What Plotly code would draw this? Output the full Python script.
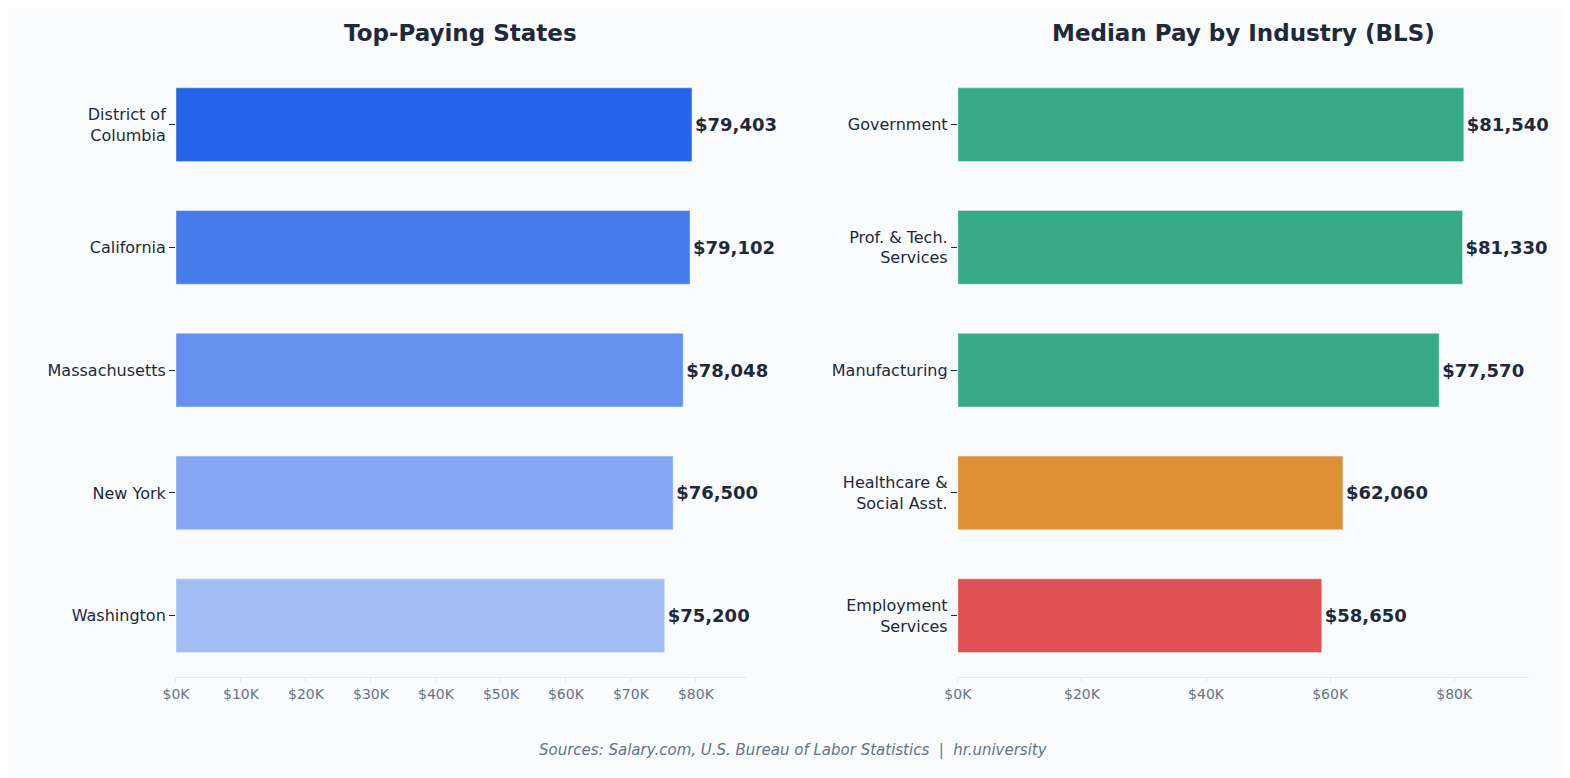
import plotly.graph_objects as go
from plotly.subplots import make_subplots

states = ["District of<br>Columbia", "California", "Massachusetts", "New York", "Washington"]
state_pay = [79403, 79102, 78048, 76500, 75200]
state_colors = ["#2563eb", "#467bec", "#6690ef", "#87a6f2", "#a5bdf5"]

industries = ["Government", "Prof. & Tech.<br>Services", "Manufacturing",
              "Healthcare &<br>Social Asst.", "Employment<br>Services"]
industry_pay = [81540, 81330, 77570, 62060, 58650]
industry_colors = ["#37aa87", "#37aa87", "#37aa87", "#de9035", "#e05252"]

fig = make_subplots(rows=1, cols=2, horizontal_spacing=0.1,
                    subplot_titles=("Top-Paying States", "Median Pay by Industry (BLS)"))

fig.add_trace(go.Bar(
    y=states, x=state_pay, orientation="h", width=0.6,
    marker=dict(color=state_colors),
    text=[f"${v:,}" for v in state_pay], textposition="outside",
    textfont=dict(size=18, color="#1e293b", family="DejaVu Sans", weight="bold"),
    cliponaxis=False, showlegend=False), row=1, col=1)

fig.add_trace(go.Bar(
    y=industries, x=industry_pay, orientation="h", width=0.6,
    marker=dict(color=industry_colors),
    text=[f"${v:,}" for v in industry_pay], textposition="outside",
    textfont=dict(size=18, color="#1e293b", family="DejaVu Sans", weight="bold"),
    cliponaxis=False, showlegend=False), row=1, col=2)

fig.update_yaxes(autorange="reversed", ticks="outside", ticklen=6, tickcolor="#1e293b",
                 tickfont=dict(size=16, color="#1e293b"), showgrid=False,
                 domain=[0.14, 0.929], automargin=False)
fig.update_xaxes(showgrid=False, showline=True, linecolor="#e2e8f0", zeroline=False,
                 tickfont=dict(size=14, color="#64748b"), ticks="outside",
                 tickcolor="#e2e8f0", ticklen=4, automargin=False)
fig.update_xaxes(range=[0, 87700], tickvals=list(range(0, 80001, 10000)),
                 ticktext=[f"${v // 1000}K" for v in range(0, 80001, 10000)],
                 domain=[0.107, 0.470], row=1, col=1)
fig.update_xaxes(range=[0, 92100], tickvals=list(range(0, 80001, 20000)),
                 ticktext=[f"${v // 1000}K" for v in range(0, 80001, 20000)],
                 domain=[0.605, 0.969], row=1, col=2)

for ann in fig.layout.annotations:
    ann.font = dict(size=23, color="#1e293b", family="DejaVu Sans", weight="bold")
    ann.y = 0.948
    ann.yanchor = "bottom"
fig.layout.annotations[0].x = (0.107 + 0.470) / 2
fig.layout.annotations[1].x = (0.605 + 0.969) / 2

fig.add_annotation(text="Sources: Salary.com, U.S. Bureau of Labor Statistics  |  hr.university",
                   xref="paper", yref="paper", x=0.5, y=0.032, showarrow=False,
                   font=dict(size=15, color="#64748b", family="DejaVu Sans", style="italic"))

fig.update_layout(width=1570, height=778, margin=dict(l=0, r=0, t=0, b=0),
                  paper_bgcolor="#fafbfd", plot_bgcolor="#fafbfd",
                  font=dict(family="DejaVu Sans"))

fig.write_html("out.html")
